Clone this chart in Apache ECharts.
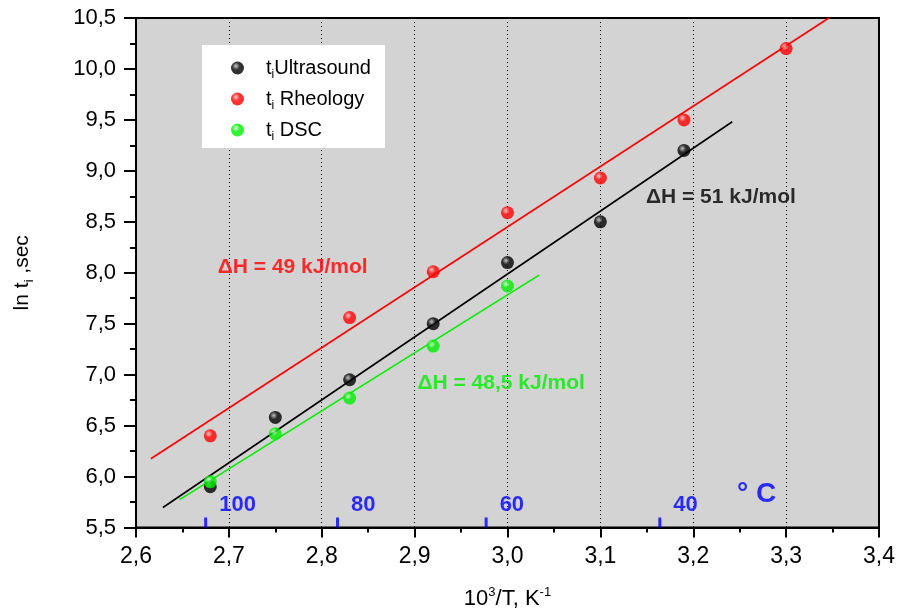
<!DOCTYPE html>
<html>
<head>
<meta charset="utf-8">
<script src="https://cdn.jsdelivr.net/npm/echarts@6/dist/echarts.min.js"></script>
<style>html,body{margin:0;padding:0;background:#fff}#c{width:899px;height:615px}</style>
</head>
<body>
<div id="c"></div>
<script>
// ---- data ----
const ultraX = [2.68, 2.75, 2.83, 2.92, 3.00, 3.10, 3.19];
const ultraY = [5.90, 6.58, 6.95, 7.50, 8.10, 8.50, 9.20];
const rheoX = [2.68, 2.83, 2.92, 3.00, 3.10, 3.19, 3.30];
const rheoY = [6.40, 7.56, 8.01, 8.59, 8.93, 9.50, 10.20];
const dscX = [2.68, 2.75, 2.83, 2.92, 3.00];
const dscY = [5.95, 6.42, 6.77, 7.28, 7.87];
// fit lines (end points)
const ultraFitX = [2.629, 3.242];
const ultraFitY = [5.696, 9.482];
const rheoFitX = [2.616, 3.346];
const rheoFitY = [6.175, 10.50];
const dscFitX = [2.647, 3.034];
const dscFitY = [5.774, 7.976];
// temperature scale (°C) marks on 1000/T axis
const tempLabels = ['100', '80', '60', '40'];
const tempX = [2.675, 2.817, 2.977, 3.164];
// annotations
const annoText = ['ΔH = 49 kJ/mol', 'ΔH = 51 kJ/mol', 'ΔH = 48,5 kJ/mol'];
const annoColor = ['#ff0000', '#000000', '#00ee00'];
const annoX = [2.688, 3.149, 2.903];
const annoY = [8.054, 8.739, 6.919];

const fmt = v => v.toFixed(1).replace('.', ',');
const zip = (a, b) => a.map((v, i) => [v, b[i]]);
const ball = (c, light) => ({
  type: 'radial', x: 0.38, y: 0.35, r: 0.65,
  colorStops: [{offset: 0, color: light}, {offset: 0.45, color: c}, {offset: 1, color: c}]
});
const FONT = 'Liberation Sans, Arial, sans-serif';
const chart = echarts.init(document.getElementById('c'));

const scatter = (name, xs, ys, c, light) => ({
  name, type: 'scatter', data: zip(xs, ys), symbolSize: 13, z: 5,
  itemStyle: {color: ball(c, light)}
});
const fit = (xs, ys, c) => ({
  type: 'line', data: zip(xs, ys), showSymbol: false, symbol: 'none', z: 3,
  lineStyle: {color: c, width: 1.6}, silent: true
});

chart.setOption({
  animation: false,
  textStyle: {fontFamily: FONT},
  grid: {left: 136, right: 20, top: 18, bottom: 87, show: true,
         backgroundColor: '#d3d3d3', borderColor: '#000', borderWidth: 2},
  legend: {
    left: 202, top: 45, orient: 'vertical',
    backgroundColor: '#fff', borderWidth: 0,
    padding: [13, 14, 5, 29], itemGap: 8, itemWidth: 13, itemHeight: 13,
    data: ['Ultrasound', 'Rheology', 'DSC'],
    formatter: n => n === 'Ultrasound' ? '{t|t}{s|i}{t|Ultrasound}' : '{t|t}{s|i}{t| ' + n + '}',
    textStyle: {fontFamily: FONT, fontSize: 20, color: '#000', padding: [0, 0, 0, 17],
      rich: {t: {fontSize: 20, fontFamily: FONT, color: '#000'},
             s: {fontSize: 12, fontFamily: FONT, color: '#000', padding: [14, 0, 0, 0]}}}
  },
  xAxis: {
    type: 'value', min: 2.6, max: 3.4, interval: 0.1,
    name: '{b|10}{p|3}{b|/T, K}{p|-1}', nameLocation: 'middle', nameGap: 58,
    nameTextStyle: {rich: {b: {fontSize: 22, fontFamily: FONT, color: '#000'},
                           p: {fontSize: 13, fontFamily: FONT, color: '#000', padding: [0, 0, 14, 0]}}},
    axisLine: {lineStyle: {color: '#000', width: 2}},
    axisTick: {inside: false, length: 10, lineStyle: {color: '#000', width: 2}},
    minorTick: {show: true, splitNumber: 2, length: 5, lineStyle: {color: '#000', width: 2}},
    axisLabel: {formatter: fmt, fontSize: 23, color: '#000', fontFamily: FONT, margin: 18},
    splitLine: {show: true, lineStyle: {color: '#000', type: [1, 3], width: 1}}
  },
  yAxis: {
    type: 'value', min: 5.5, max: 10.5, interval: 0.5,
    name: '{b|ln t}{s|i}{b| ,sec}', nameLocation: 'middle', nameGap: 100,
    nameTextStyle: {rich: {b: {fontSize: 21, fontFamily: FONT, color: '#000'},
                           s: {fontSize: 13, fontFamily: FONT, color: '#000', padding: [14, 0, 0, 0]}}},
    axisLine: {lineStyle: {color: '#000', width: 2}},
    axisTick: {inside: false, length: 12, lineStyle: {color: '#000', width: 2}},
    minorTick: {show: true, splitNumber: 2, length: 6, lineStyle: {color: '#000', width: 2}},
    axisLabel: {formatter: fmt, fontSize: 22, color: '#000', fontFamily: FONT, margin: 20},
    splitLine: {show: false}
  },
  series: [
    fit(ultraFitX, ultraFitY, '#000'),
    fit(rheoFitX, rheoFitY, '#ff0000'),
    fit(dscFitX, dscFitY, '#00ee00'),
    scatter('Ultrasound', ultraX, ultraY, '#000', '#bbb'),
    scatter('Rheology', rheoX, rheoY, '#ff0000', '#ffbbbb'),
    scatter('DSC', dscX, dscY, '#00ee00', '#ccffcc'),
    {
      type: 'scatter', silent: true, z: 4,
      data: tempX.map((x, i) => ({value: [x, 5.5], name: tempLabels[i]})),
      symbol: 'rect', symbolSize: [3, 10], symbolOffset: [0, -5],
      itemStyle: {color: '#0000ff'},
      label: {show: true, formatter: p => p.name, position: 'right', distance: 12,
              offset: [0, -18], color: '#0000ff', fontSize: 22, fontWeight: 'bold',
              fontFamily: FONT}
    },
    {
      type: 'scatter', silent: true, symbolSize: 0, z: 6,
      data: annoX.map((x, i) => ({value: [x, annoY[i]], name: annoText[i],
        label: {color: annoColor[i]}})),
      label: {show: true, position: 'right', distance: 0, fontSize: 21, fontWeight: 'bold',
              fontFamily: FONT, formatter: p => p.name},
      itemStyle: {color: 'transparent'}
    },
    {
      type: 'scatter', silent: true, symbolSize: 0, z: 6,
      data: [{value: [3.247, 5.823], name: '° C'}],
      label: {show: true, position: 'right', distance: 0, fontSize: 28, fontWeight: 'bold',
              fontFamily: FONT, color: '#0000ff', formatter: p => p.name},
      itemStyle: {color: 'transparent'}
    }
  ]
});
</script>
</body>
</html>
